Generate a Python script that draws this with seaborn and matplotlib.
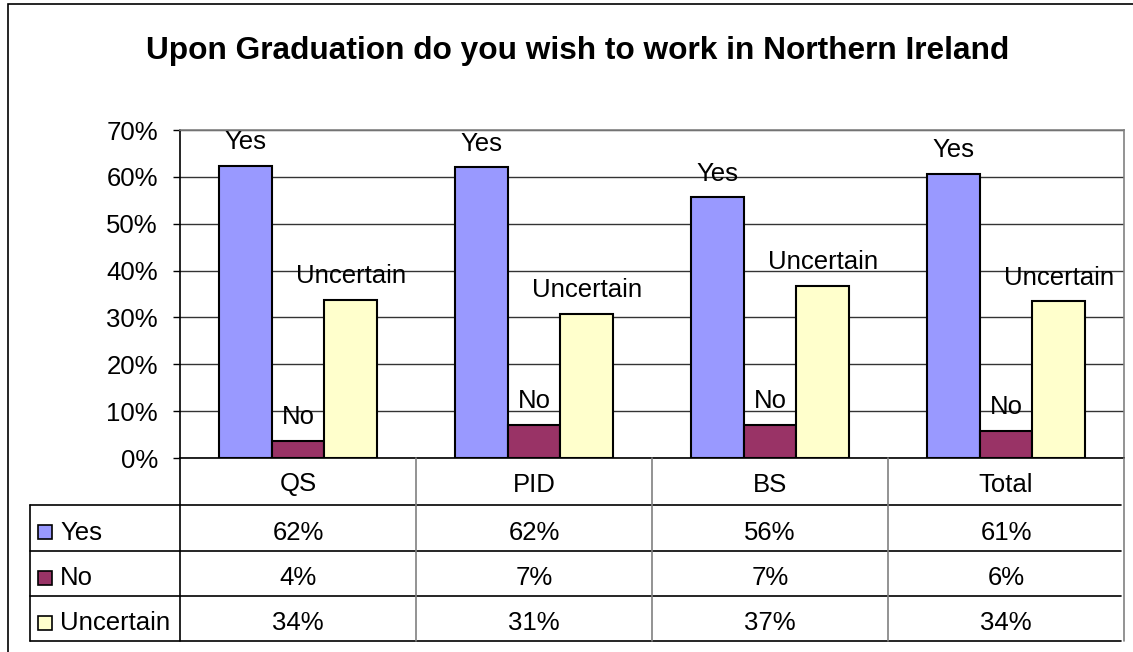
import matplotlib
matplotlib.use("Agg")
import matplotlib.pyplot as plt
import matplotlib.patches as mpatches
from matplotlib.transforms import blended_transform_factory
import pandas as pd
import seaborn as sns

courses = ["QS", "PID", "BS", "Total"]
answers = ["Yes", "No", "Uncertain"]
yes_vals = [0.624, 0.620, 0.556, 0.607]
no_vals = [0.036, 0.071, 0.071, 0.058]
uncertain_vals = [0.338, 0.308, 0.368, 0.334]
table_text = {
    "Yes": ["62%", "62%", "56%", "61%"],
    "No": ["4%", "7%", "7%", "6%"],
    "Uncertain": ["34%", "31%", "37%", "34%"],
}
colors = {"Yes": "#9999FF", "No": "#993366", "Uncertain": "#FFFFCC"}

rows = []
for ans, vals in zip(answers, [yes_vals, no_vals, uncertain_vals]):
    for c, v in zip(courses, vals):
        rows.append({"course": c, "answer": ans, "pct": v})
df = pd.DataFrame(rows)

sns.set_style("white")
plt.rcParams["font.family"] = ["Liberation Sans", "DejaVu Sans"]
plt.rcParams["text.color"] = "black"
plt.rcParams["ytick.color"] = "black"
plt.rcParams["ytick.labelcolor"] = "black"

FS = 18.5
W, H = 1133, 652
fig = plt.figure(figsize=(W / 100, H / 100), dpi=100)

# plot area in pixels
L, R, T, B = 180, 1124, 130, 458
ax = fig.add_axes([L / W, 1 - B / H, (R - L) / W, (B - T) / H])

sns.barplot(data=df, x="course", y="pct", hue="answer", palette=colors,
            saturation=1, width=0.67, edgecolor="black", linewidth=1.5, ax=ax,
            legend=False, zorder=3)

ax.set_ylim(0, 0.7)
ax.set_xlim(-0.5, len(courses) - 0.5)
ticks = [i / 10 for i in range(8)]
ax.set_yticks(ticks)
ax.set_yticklabels([f"{int(round(t * 100))}%" for t in ticks], fontsize=FS)
ax.set_xticks([])
ax.set_xlabel("")
ax.set_ylabel("")
ax.tick_params(axis="y", direction="out", length=5, width=1, pad=11, left=True,
               colors="black")
ax.yaxis.grid(True, color="#333333", linewidth=1, zorder=0)
ax.set_axisbelow(True)
for s in ["top", "right"]:
    ax.spines[s].set_color("#808080")
    ax.spines[s].set_linewidth(1.2)
for s in ["left", "bottom"]:
    ax.spines[s].set_color("black")
    ax.spines[s].set_linewidth(1.2)

# category labels above bars
for cont, ans in zip(ax.containers, answers):
    for bar in cont:
        ax.annotate(ans, xy=(bar.get_x() + bar.get_width() / 2, bar.get_height()),
                    xytext=(0, 19), textcoords="offset points",
                    ha="center", va="center_baseline", fontsize=FS, zorder=4)

fig.text(578 / W, 1 - 47 / H, "Upon Graduation do you wish to work in Northern Ireland",
         ha="center", va="center_baseline", fontsize=22.8, fontweight="bold")

# data table below the plot
tr = blended_transform_factory(ax.transData, fig.transFigure)


def fy(y):
    return 1 - y / H


def fx(x):
    return x / W


row_lines = [458, 505, 551, 596, 641]
tab_left = 30
for y in row_lines[1:]:
    fig.add_artist(plt.Line2D([fx(tab_left), fx(1121)], [fy(y), fy(y)],
                              color="black", linewidth=1.2))
fig.add_artist(plt.Line2D([fx(tab_left), fx(tab_left)], [fy(505), fy(641)],
                          color="black", linewidth=1.2))
fig.add_artist(plt.Line2D([fx(L), fx(L)], [fy(458), fy(641)],
                          color="black", linewidth=1.2))
for i in range(1, len(courses) + 1):
    xb = i - 0.5
    fig.add_artist(plt.Line2D([xb, xb], [fy(458), fy(641)], transform=tr,
                              color="#808080", linewidth=1.2))

for i, c in enumerate(courses):
    fig.text(i, fy(482), c, transform=tr, ha="center", va="center_baseline",
             fontsize=FS)
for r, ans in enumerate(answers):
    yc = (row_lines[r + 1] + row_lines[r + 2]) / 2 + 2
    for i, t in enumerate(table_text[ans]):
        fig.text(i, fy(yc), t, transform=tr, ha="center", va="center_baseline",
                 fontsize=FS)
    fig.add_artist(mpatches.Rectangle((fx(38), fy(yc + 9)), 14 / W, 14 / H,
                                      facecolor=colors[ans], edgecolor="black",
                                      linewidth=1.2))
    fig.text(fx(60), fy(yc), ans, ha="left", va="center_baseline", fontsize=FS)

# outer chart frame
fig.add_artist(mpatches.Rectangle((fx(8), -0.1), 1.2, fy(4) + 0.1,
                                  facecolor="none", edgecolor="black", linewidth=1.2))

fig.savefig("out.png", dpi=100)
